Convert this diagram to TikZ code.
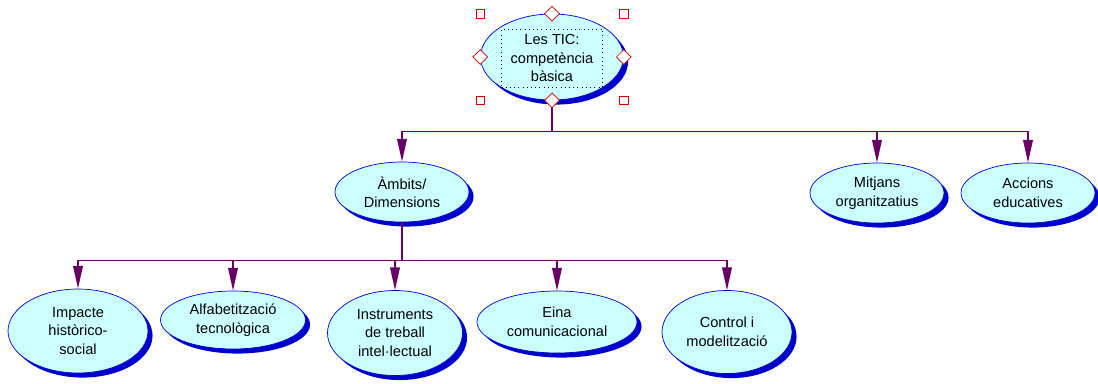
\documentclass[tikz,border=0pt]{standalone}
\usepackage{fontspec}
\setmainfont{Liberation Sans}
\usetikzlibrary{shapes.geometric,shadows,arrows.meta}
\definecolor{skyfill}{HTML}{CCFFFF}
\definecolor{rim}{HTML}{0000CC}
\definecolor{wire}{HTML}{660066}
\definecolor{grip}{HTML}{CC0000}
\begin{document}
\begin{tikzpicture}[x=0.02cm,y=-0.02cm,
        bubble/.style={ellipse,draw=rim,fill=skyfill,inner sep=0pt,align=center,
            font=\fontsize{8.3}{10.5}\selectfont,
            general shadow={fill=rim,shadow xshift=2.6pt,shadow yshift=-2.6pt}},
        link/.style={draw=wire,line width=0.9pt,-{Triangle[width=5.5pt,length=13pt,fill=wire]}},
        grab/.style={draw=grip,fill=white,inner sep=0pt,minimum size=0.17cm},
        knob/.style={diamond,draw=grip,fill=white,inner sep=0pt,minimum size=0.3cm}]
    \useasboundingbox (0,0) rectangle (1098,383);
    % root with its selection frame
    \node[bubble,minimum width=2.86cm,minimum height=1.72cm] (top) at (552,57) {};
    \node[draw,dotted,align=center,font=\fontsize{8.3}{10.5}\selectfont,
        minimum width=2.02cm,minimum height=1.16cm,inner sep=0pt] (lbl) at (552,58) {Les TIC:\\competència\\bàsica};
    % middle row
    \node[bubble,minimum width=2.68cm,minimum height=1.2cm] (amb) at (402,192) {Àmbits/\\Dimensions};
    \node[bubble,minimum width=2.68cm,minimum height=1.2cm] (mit) at (877,193) {Mitjans\\organitzatius};
    \node[bubble,minimum width=2.68cm,minimum height=1.2cm] (acc) at (1028,193) {Accions\\educatives};
    % bottom row
    \node[bubble,minimum width=2.8cm,minimum height=1.68cm] (imp) at (78,331) {Impacte\\històrico-\\social};
    \node[bubble,minimum width=2.9cm,minimum height=1.16cm] (alf) at (233,320) {Alfabetització\\tecnològica};
    \node[bubble,minimum width=2.7cm,minimum height=1.7cm] (ins) at (395,333) {Instruments\\de treball\\intel·lectual};
    \node[bubble,minimum width=3.2cm,minimum height=1.24cm] (ein) at (557,322) {Eina\\comunicacional};
    \node[bubble,minimum width=2.6cm,minimum height=1.66cm] (con) at (727,332) {Control i\\modelització};
    % connectors
    \draw[link] (top.south) -- ++(0,31) -| (amb.north);
    \draw[link] (top.south) -- ++(0,31) -| (mit.north);
    \draw[link] (top.south) -- ++(0,31) -| (acc.north);
    \draw[link] (amb.south) -- ++(0,38) -| (imp.north);
    \draw[link] (amb.south) -- ++(0,38) -| (alf.north);
    \draw[link] (amb.south) -- ++(0,38) -| (ins.north);
    \draw[link] (amb.south) -- ++(0,38) -| (ein.north);
    \draw[link] (amb.south) -- ++(0,38) -| (con.north);
    % handles
    \node[grab] (h1) at (top.north -| top.west) {};
    \node[grab] (h2) at (top.north -| top.east) {};
    \node[grab] (h3) at (top.south -| top.west) {};
    \node[grab] (h4) at (top.south -| top.east) {};
    \node[knob] (k1) at (top.north) {};
    \node[knob] (k2) at (top.south) {};
    \node[knob] (k3) at (top.west) {};
    \node[knob] (k4) at (top.east) {};
\end{tikzpicture}
\end{document}
